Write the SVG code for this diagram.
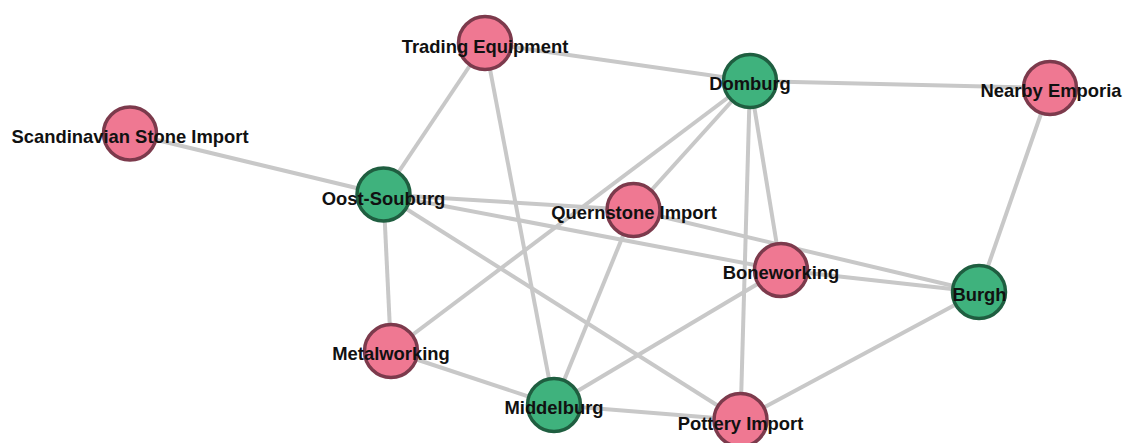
<svg xmlns="http://www.w3.org/2000/svg" width="1126" height="443" viewBox="0 0 1126 443">
<style>
.edge{stroke:#c8c8c8;stroke-width:4;fill:none}
.pink{fill:#ef7892;stroke:#7c3a4c;stroke-width:3.5}
.green{fill:#3fb27d;stroke:#1f5e40;stroke-width:3.5}
.lbl{font-family:"Liberation Sans",Arial,sans-serif;font-weight:bold;font-size:18.4px;fill:#111;text-anchor:middle}
</style>
<rect width="1126" height="443" fill="#fff"/>
<g id="connectors">
<line class="edge" x1="485" y1="43" x2="750" y2="81"/>
<line class="edge" x1="485" y1="43" x2="383.5" y2="194.5"/>
<line class="edge" x1="485" y1="43" x2="554" y2="405"/>
<line class="edge" x1="750" y1="81" x2="1050" y2="88"/>
<line class="edge" x1="750" y1="81" x2="633.5" y2="210"/>
<line class="edge" x1="750" y1="81" x2="391" y2="351"/>
<line class="edge" x1="750" y1="81" x2="781" y2="270"/>
<line class="edge" x1="750" y1="81" x2="740.5" y2="420"/>
<line class="edge" x1="1050" y1="88" x2="979" y2="292"/>
<line class="edge" x1="130" y1="133.5" x2="383.5" y2="194.5"/>
<line class="edge" x1="383.5" y1="194.5" x2="633.5" y2="210"/>
<line class="edge" x1="383.5" y1="194.5" x2="781" y2="270"/>
<line class="edge" x1="383.5" y1="194.5" x2="391" y2="351"/>
<line class="edge" x1="383.5" y1="194.5" x2="740.5" y2="420"/>
<line class="edge" x1="633.5" y1="210" x2="979" y2="292"/>
<line class="edge" x1="633.5" y1="210" x2="554" y2="405"/>
<line class="edge" x1="781" y1="270" x2="979" y2="292"/>
<line class="edge" x1="781" y1="270" x2="554" y2="405"/>
<line class="edge" x1="979" y1="292" x2="740.5" y2="420"/>
<line class="edge" x1="391" y1="351" x2="554" y2="405"/>
<line class="edge" x1="554" y1="405" x2="740.5" y2="420"/>
</g>
<g id="node-trading-equipment"><circle class="pink" cx="485" cy="43" r="26.5"/></g>
<g id="node-domburg"><circle class="green" cx="750" cy="81" r="26.5"/></g>
<g id="node-nearby-emporia"><circle class="pink" cx="1050" cy="88" r="26.5"/></g>
<g id="node-scandinavian-stone-import"><circle class="pink" cx="130" cy="133.5" r="26.5"/></g>
<g id="node-oost-souburg"><circle class="green" cx="383.5" cy="194.5" r="26.5"/></g>
<g id="node-quernstone-import"><circle class="pink" cx="633.5" cy="210" r="26.5"/></g>
<g id="node-boneworking"><circle class="pink" cx="781" cy="270" r="26.5"/></g>
<g id="node-burgh"><circle class="green" cx="979" cy="292" r="26.5"/></g>
<g id="node-metalworking"><circle class="pink" cx="391" cy="351" r="26.5"/></g>
<g id="node-middelburg"><circle class="green" cx="554" cy="405" r="26.5"/></g>
<g id="node-pottery-import"><circle class="pink" cx="740.5" cy="420" r="26.5"/></g>
<g id="labels">
<text class="lbl" x="485" y="53">Trading Equipment</text>
<text class="lbl" x="750" y="90">Domburg</text>
<text class="lbl" x="1051" y="97">Nearby Emporia</text>
<text class="lbl" x="130" y="143">Scandinavian Stone Import</text>
<text class="lbl" x="383.5" y="204.5">Oost-Souburg</text>
<text class="lbl" x="634" y="219">Quernstone Import</text>
<text class="lbl" x="781" y="279">Boneworking</text>
<text class="lbl" x="979.5" y="301">Burgh</text>
<text class="lbl" x="391" y="360">Metalworking</text>
<text class="lbl" x="554" y="414">Middelburg</text>
<text class="lbl" x="740.5" y="430">Pottery Import</text>
</g>
</svg>
